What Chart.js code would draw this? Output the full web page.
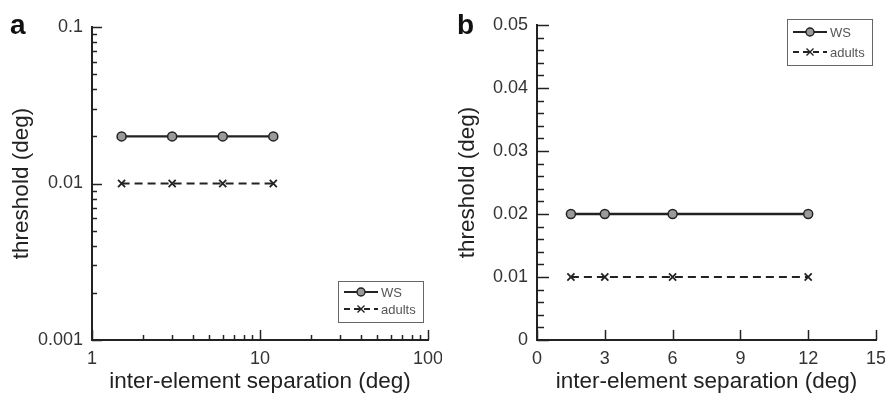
<!DOCTYPE html>
<html>
<head>
<meta charset="utf-8">
<script src="https://cdn.jsdelivr.net/npm/chart.js@4"></script>
<style>
    html, body { margin: 0; padding: 0; background: #fff; }
    #wrap { position: relative; width: 885px; height: 394px; overflow: hidden; }
    canvas { position: absolute; top: 0; }
    #cA { left: 0; }
    #cB { left: 442px; }
    .panel-tag { position: absolute; top: 11px; font: bold 28px "Liberation Sans", Arial, sans-serif; line-height: 28px; color: #111; }
</style>
</head>
<body>
<div id="wrap">
    <canvas id="cA" width="442" height="394"></canvas>
    <canvas id="cB" width="443" height="394"></canvas>
    <div class="panel-tag" style="left:10px">a</div>
    <div class="panel-tag" style="left:457px">b</div>
</div>
<script>
// ── Data ──────────────────────────────────────────────────────────────
const separations = [1.5, 3, 6, 12];           // inter-element separation (deg)
const wsThreshold = [0.02, 0.02, 0.02, 0.02];   // WS
const adultThreshold = [0.01, 0.01, 0.01, 0.01]; // adults
const seriesNames = ['WS', 'adults'];

// tick values
const logXDecades = [1, 10];
const logYDecades = [0.001, 0.01];
const linXTicks = [0, 3, 6, 9, 12, 15];
const linYMajor = [0, 0.01, 0.02, 0.03, 0.04, 0.05];

const INK = '#222';
const FONT = '"Liberation Sans", Arial, Helvetica, sans-serif';

function logTicks(decades, top) {
    const out = [];
    decades.forEach(d => {
        for (let m = 1; m <= 9; m++) out.push({ value: +(d * m).toPrecision(3), major: m === 1 });
    });
    out.push({ value: top, major: true });
    return out;
}

function linMinorTicks(major, steps) {
    const out = [];
    for (let i = 0; i < major.length; i++) {
        out.push({ value: major[i], major: true });
        if (i < major.length - 1) {
            const step = (major[i + 1] - major[i]) / steps;
            for (let k = 1; k < steps; k++) out.push({ value: +(major[i] + step * k).toFixed(6), major: false });
        }
    }
    return out;
}

function pts(ys) { return separations.map((x, i) => ({ x: x, y: ys[i] })); }

function datasets() {
    return [{
        label: seriesNames[0],
        data: pts(wsThreshold),
        borderColor: INK, borderWidth: 2.4,
        pointStyle: 'circle', pointRadius: 4.5,
        pointBackgroundColor: '#9a9a9a', pointBorderColor: INK, pointBorderWidth: 1.5
    }, {
        label: seriesNames[1],
        data: pts(adultThreshold),
        borderColor: INK, borderWidth: 2.2, borderDash: [8, 5],
        pointStyle: 'crossRot', pointRadius: 5,
        pointBorderColor: INK, pointBorderWidth: 1.8
    }];
}

// ── Inward tick marks ─────────────────────────────────────────────────
const inwardTicks = {
    id: 'inwardTicks',
    afterDraw(chart, args, opts) {
        const { ctx, chartArea } = chart;
        ctx.save();
        ctx.strokeStyle = INK;
        ctx.lineWidth = 1.5;
        ['x', 'y'].forEach(id => {
            const s = chart.scales[id];
            const len = opts[id];
            s.ticks.forEach(t => {
                const l = t.major ? len.major : len.minor;
                const p = Math.round(s.getPixelForValue(t.value)) + 0.5;
                ctx.beginPath();
                if (id === 'x') { ctx.moveTo(p, chartArea.bottom); ctx.lineTo(p, chartArea.bottom - l); }
                else { ctx.moveTo(chartArea.left, p); ctx.lineTo(chartArea.left + l, p); }
                ctx.stroke();
            });
        });
        ctx.restore();
    }
};

// ── Boxed legend ──────────────────────────────────────────────────────
const boxLegend = {
    id: 'boxLegend',
    afterDraw(chart, args, o) {
        const ctx = chart.ctx;
        ctx.save();
        ctx.fillStyle = '#fff';
        ctx.fillRect(o.x, o.y, o.w, o.h);
        ctx.strokeStyle = '#666';
        ctx.lineWidth = 1;
        ctx.strokeRect(o.x + 0.5, o.y + 0.5, o.w, o.h);
        chart.data.datasets.forEach((ds, i) => {
            const y = o.y + o.rows[i];
            const x0 = o.x + 6, x1 = x0 + 34, xm = (x0 + x1) / 2;
            ctx.strokeStyle = INK;
            ctx.lineWidth = 2;
            ctx.setLineDash(ds.borderDash ? [6, 4] : []);
            ctx.beginPath(); ctx.moveTo(x0, y); ctx.lineTo(x1, y); ctx.stroke();
            ctx.setLineDash([]);
            ctx.lineWidth = 1.4;
            if (ds.pointStyle === 'circle') {
                ctx.fillStyle = '#9a9a9a';
                ctx.beginPath(); ctx.arc(xm, y, 4, 0, Math.PI * 2); ctx.fill(); ctx.stroke();
            } else {
                const r = 3.5;
                ctx.beginPath();
                ctx.moveTo(xm - r, y - r); ctx.lineTo(xm + r, y + r);
                ctx.moveTo(xm - r, y + r); ctx.lineTo(xm + r, y - r);
                ctx.stroke();
            }
            ctx.fillStyle = '#555';
            ctx.font = '13px ' + FONT;
            ctx.textBaseline = 'middle';
            ctx.fillText(ds.label, x1 + 3, y + 1);
        });
        ctx.restore();
    }
};

function axisTitle(text, pad) {
    return { display: true, text: text, color: INK, font: { family: FONT, size: 22.5, lineHeight: 1 }, padding: pad };
}

function baseScale() {
    return {
        grid: { display: false, drawTicks: false },
        border: { display: true, color: INK, width: 2 },
        ticks: { color: '#333', font: { family: FONT, size: 18 }, autoSkip: false, maxRotation: 0 }
    };
}

function makeChart(canvasId, cfg) {
    const x = baseScale(), y = baseScale();
    Object.assign(x, cfg.x);
    Object.assign(y, cfg.y);
    x.ticks = Object.assign({}, baseScale().ticks, { padding: 8 }, cfg.x.ticks);
    y.ticks = Object.assign({}, baseScale().ticks, { padding: 9 }, cfg.y.ticks);
    // fixed axis boxes, no extra room for overhanging end labels
    x.afterFit = s => { s.height = 54; s.paddingLeft = 0; s.paddingRight = 0; };
    y.afterFit = s => { s.width = cfg.yWidth; s.paddingTop = 0; s.paddingBottom = 0; };
    return new Chart(document.getElementById(canvasId), {
        type: 'line',
        data: { datasets: datasets() },
        options: {
            responsive: false,
            animation: false,
            events: [],
            layout: { padding: { left: 0, top: cfg.top, right: cfg.right, bottom: 0 } },
            scales: { x: x, y: y },
            plugins: {
                legend: { display: false },
                tooltip: { enabled: false },
                inwardTicks: cfg.tickLen,
                boxLegend: cfg.legend
            }
        },
        plugins: [inwardTicks, boxLegend]
    });
}

// ── Panel a: log-log ──────────────────────────────────────────────────
makeChart('cA', {
    yWidth: 92, top: 27, right: 14,
    x: {
        type: 'logarithmic', min: 1, max: 100,
        afterBuildTicks: s => { s.ticks = logTicks(logXDecades, 100); },
        ticks: { callback: v => ([1, 10, 100].includes(v) ? String(v) : '') },
        title: axisTitle('inter-element separation (deg)', { top: 0, bottom: 1 })
    },
    y: {
        type: 'logarithmic', min: 0.001, max: 0.1,
        afterBuildTicks: s => { s.ticks = logTicks(logYDecades, 0.1); },
        ticks: { callback: v => ([0.001, 0.01, 0.1].includes(v) ? String(v) : '') },
        title: axisTitle('threshold (deg)', { top: 11, bottom: 0 })
    },
    tickLen: { x: { major: 10, minor: 5 }, y: { major: 10, minor: 5 } },
    legend: { x: 338, y: 281, w: 85, h: 41, rows: [11, 28] }
});

// ── Panel b: linear ───────────────────────────────────────────────────
makeChart('cB', {
    yWidth: 95, top: 25, right: 9,
    x: {
        type: 'linear', min: 0, max: 15,
        afterBuildTicks: s => { s.ticks = linXTicks.map(v => ({ value: v, major: true })); },
        ticks: { callback: v => String(v) },
        title: axisTitle('inter-element separation (deg)', { top: 0, bottom: 1 })
    },
    y: {
        type: 'linear', min: 0, max: 0.05,
        afterBuildTicks: s => { s.ticks = linMinorTicks(linYMajor, 5); },
        ticks: { callback: v => (linYMajor.includes(v) ? (v === 0 ? '0' : v.toFixed(2)) : '') },
        title: axisTitle('threshold (deg)', { top: 15, bottom: 0 })
    },
    tickLen: { x: { major: 10, minor: 5 }, y: { major: 12, minor: 7 } },
    legend: { x: 345, y: 19, w: 85, h: 46, rows: [13, 33] }
});
</script>
</body>
</html>
